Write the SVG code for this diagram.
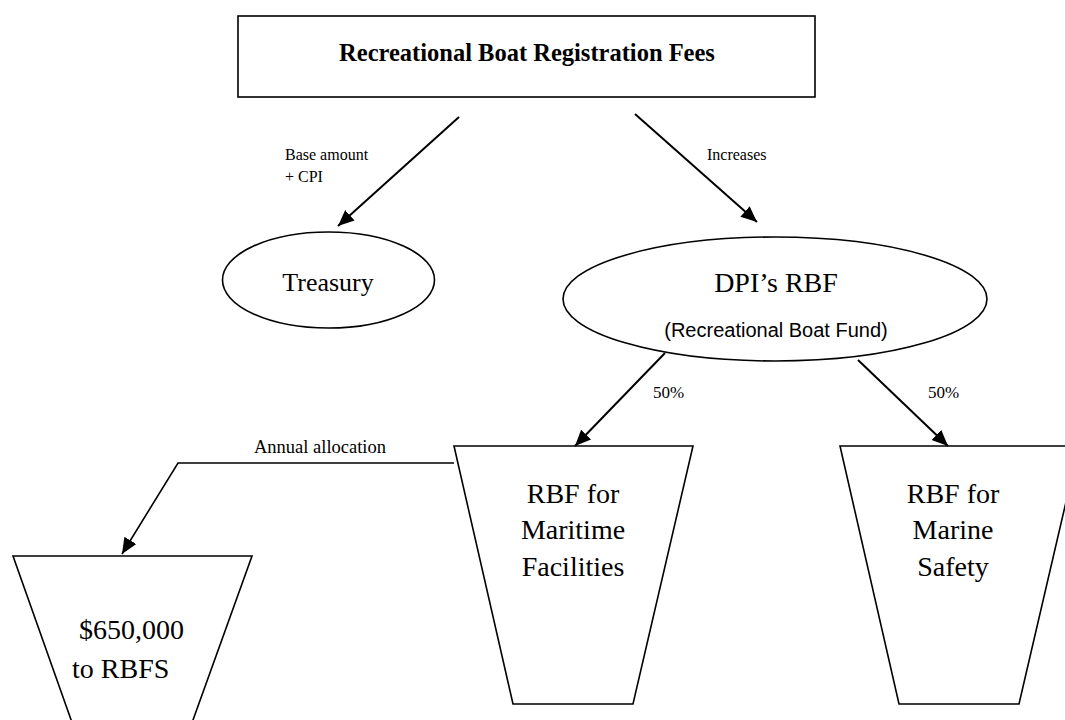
<svg xmlns="http://www.w3.org/2000/svg" width="1065" height="720" viewBox="0 0 1065 720">
<style>
.shape{fill:#fff;stroke:#000;stroke-width:1.6}
.conn{fill:none;stroke:#000;stroke-width:2}
.serif{font-family:"Liberation Serif","Times New Roman",serif;fill:#000}
.sans{font-family:"Liberation Sans",Arial,sans-serif;fill:#000}
.lbl{font-size:16px}
.big{font-size:28px}
</style>
<defs>
<marker id="ah" markerUnits="userSpaceOnUse" markerWidth="18" markerHeight="16" refX="16" refY="7" orient="auto">
<path d="M0,0 L16,7 L0,14 Z" fill="#000"/>
</marker>
</defs>
<rect width="1065" height="720" fill="#fff"/>
<g id="fees">
<rect class="shape" x="238" y="16" width="577" height="81"/>
<text class="serif" x="527" y="61" font-size="24.5" font-weight="bold" text-anchor="middle">Recreational Boat Registration Fees</text>
</g>
<g id="treasury">
<ellipse class="shape" cx="328.5" cy="280" rx="106" ry="48"/>
<text class="serif" x="328" y="291" font-size="26" text-anchor="middle">Treasury</text>
</g>
<g id="dpi-rbf">
<ellipse class="shape" cx="775" cy="299" rx="212" ry="62"/>
<text class="serif" x="776" y="292" font-size="28" text-anchor="middle">DPI’s RBF</text>
<text class="sans" x="776" y="337" font-size="20" text-anchor="middle">(Recreational Boat Fund)</text>
</g>
<g id="maritime">
<polygon class="shape" points="454,446 693,446 633,704 513,704"/>
<text class="serif big" text-anchor="middle"><tspan x="573" y="503">RBF for</tspan><tspan x="573" y="539">Maritime</tspan><tspan x="573" y="576">Facilities</tspan></text>
</g>
<g id="marine-safety">
<polygon class="shape" points="840,446 1079,446 1019,704 899,704"/>
<text class="serif big" text-anchor="middle"><tspan x="953" y="503">RBF for</tspan><tspan x="953" y="539">Marine</tspan><tspan x="953" y="576">Safety</tspan></text>
</g>
<g id="rbfs">
<polygon class="shape" points="13,556 252,556 184,745 80,745"/>
<text class="serif big"><tspan x="79" y="639">$650,000</tspan><tspan x="72" y="678">to RBFS</tspan></text>
</g>
<g id="connectors">
<line class="conn" x1="459" y1="117" x2="338" y2="226" marker-end="url(#ah)"/>
<line class="conn" x1="635" y1="114" x2="757" y2="222" marker-end="url(#ah)"/>
<line class="conn" x1="665" y1="353" x2="575" y2="446" marker-end="url(#ah)"/>
<line class="conn" x1="858" y1="360" x2="948" y2="446" marker-end="url(#ah)"/>
<polyline class="conn" points="454,463 178,463 122,554" marker-end="url(#ah)" style="stroke-width:1.6"/>
<text class="serif lbl" x="285" y="160">Base amount</text>
<text class="serif lbl" x="285" y="182">+ CPI</text>
<text class="serif lbl" x="707" y="160">Increases</text>
<text class="serif" x="653" y="398" font-size="17">50%</text>
<text class="serif" x="928" y="398" font-size="17">50%</text>
<text class="serif" x="320" y="453" font-size="18.5" text-anchor="middle">Annual allocation</text>
</g>
</svg>
